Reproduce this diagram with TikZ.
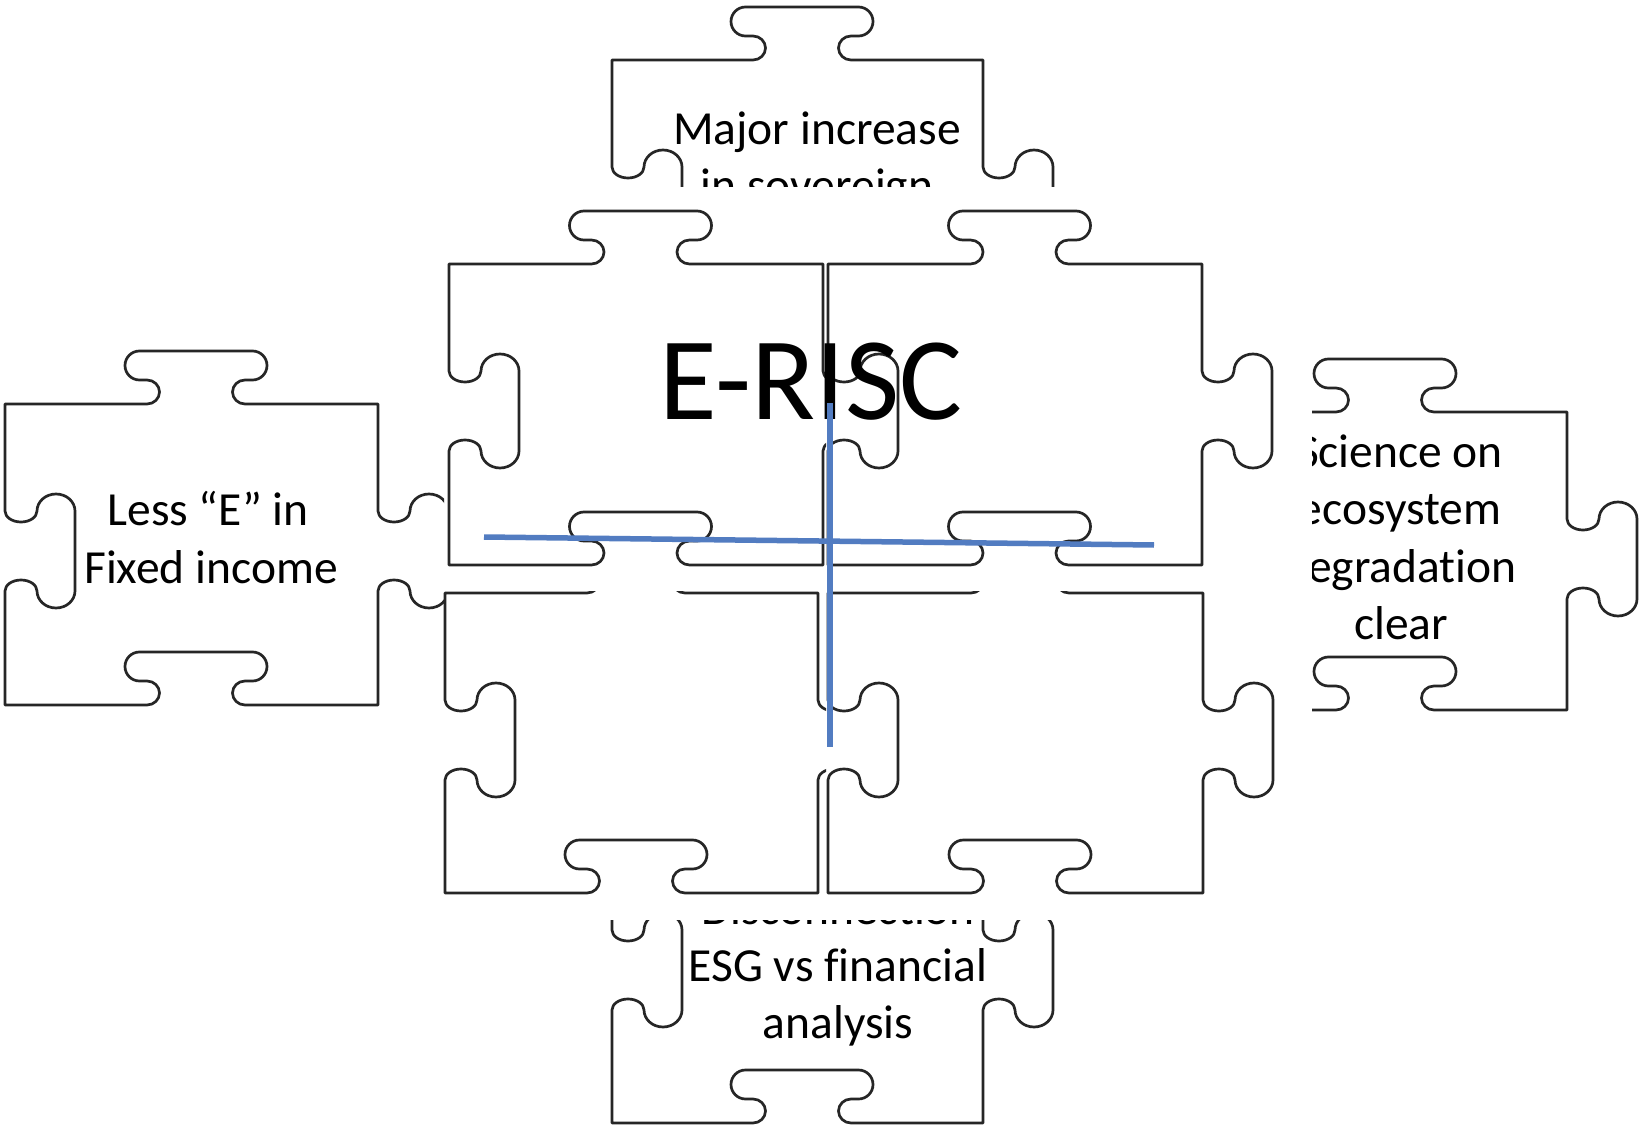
\documentclass[tikz,border=0pt]{standalone}
\usepackage{fontspec}
\setmainfont{Carlito}[Ligatures=NoCommon]
\definecolor{crossblue}{RGB}{82,124,193}
\definecolor{edgegray}{RGB}{38,38,38}

% One jigsaw piece: #1,#2 = top-left corner, #3 = width, #4 = height, #5 = name.
% Top: tab out, right: tab out, bottom: socket in, left: socket in.
\newcommand{\jigsaw}[5]{%
  \pgfmathsetmacro\jxa{#1}%
  \pgfmathsetmacro\jya{#2}%
  \pgfmathsetmacro\jxb{#1+#3}%
  \pgfmathsetmacro\jyb{#2+#4}%
  \pgfmathsetmacro\jxt{#1+#3/2+4.5}%
  \pgfmathsetmacro\jys{#2+147}%
  \draw[outline] (\jxa,\jya) coordinate (#5-nw)
    -- ({\jxt-49},\jya)
    arc[start angle=90,end angle=-90,x radius=12.5,y radius=12]
    -- ({\jxt-56.5},{\jya-24})
    arc[start angle=90,end angle=270,radius=14.5]
    -- ({\jxt+56.5},{\jya-53})
    arc[start angle=-90,end angle=90,radius=14.5]
    -- ({\jxt+49},{\jya-24})
    arc[start angle=270,end angle=90,x radius=12.5,y radius=12]
    -- (\jxb,\jya)
    -- (\jxb,{\jys-40})
    arc[start angle=180,end angle=0,x radius=16,y radius=11]
    arc[start angle=180,end angle=360,x radius=19,y radius=17]
    -- ({\jxb+70},{\jys+40})
    arc[start angle=0,end angle=180,x radius=19,y radius=17]
    arc[start angle=0,end angle=-180,x radius=16,y radius=11]
    -- (\jxb,\jyb)
    -- ({\jxt+49},\jyb)
    arc[start angle=90,end angle=270,x radius=12.5,y radius=12]
    -- ({\jxt+56.5},{\jyb-24})
    arc[start angle=90,end angle=-90,radius=14.5]
    -- ({\jxt-56.5},{\jyb-53})
    arc[start angle=270,end angle=90,radius=14.5]
    -- ({\jxt-49},{\jyb-24})
    arc[start angle=-90,end angle=90,x radius=12.5,y radius=12]
    -- (\jxa,\jyb)
    -- (\jxa,{\jys+40})
    arc[start angle=-180,end angle=0,x radius=16,y radius=11]
    arc[start angle=180,end angle=0,x radius=19,y radius=17]
    -- ({\jxa+70},{\jys-40})
    arc[start angle=360,end angle=180,x radius=19,y radius=17]
    arc[start angle=0,end angle=180,x radius=16,y radius=11]
    -- cycle;%
}

\begin{document}
\begin{tikzpicture}[x=1pt,y=-1pt,
  outline/.style={draw=edgegray,line width=2.7pt,line join=round,line cap=round},
  lbl/.style={anchor=base,inner sep=0pt,font=\fontsize{47.5}{57.5}\selectfont,text=black},
  crossline/.style={draw=crossblue,line width=5.5pt}]

\fill[white] (0,0) rectangle (1642,1126);
\useasboundingbox (0,0) rectangle (1642,1126);

% outer pieces
\begin{scope}
  \clip (0,0) rectangle (1642,187);
  \jigsaw{612}{60}{371}{300}{ptop}
  \node[lbl] (t1) at (817,145) {Major increase};
  \node[lbl] (t2) at (817,202) {in sovereign};
\end{scope}

\begin{scope}
  \clip (0,0) rectangle (444,1126);
  \jigsaw{5}{404}{373}{301}{pleft}
  \node[lbl] (l1) at (208,525) {Less “E” in};
  \node[lbl] (l2) at (211,583) {Fixed income};
\end{scope}

\begin{scope}
  \clip (1312,0) rectangle (1642,1126);
  \jigsaw{1194}{412}{373}{298}{pright}
  \node[lbl] (r1) at (1400,467) {Science on};
  \node[lbl] (r2) at (1400,524.5) {ecosystem};
  \node[lbl] (r3) at (1400,582) {degradation};
  \node[lbl] (r4) at (1401,639.5) {clear};
\end{scope}

\begin{scope}
  \clip (0,920) rectangle (1642,1126);
  \jigsaw{612}{823}{371}{300}{pbottom}
  \node[lbl] (b1) at (838,924) {Disconnection};
  \node[lbl] (b2) at (838,981) {ESG vs financial};
  \node[lbl] (b3) at (838,1038) {analysis};
\end{scope}

% central four pieces
\begin{scope}
  \clip (0,0) rectangle (826,1126);
  \jigsaw{449}{264}{374}{301}{ctl}
\end{scope}
\jigsaw{828}{264}{374}{301}{ctr}
\begin{scope}
  \clip (0,591) rectangle (826,1126);
  \jigsaw{445}{593}{373}{300}{cbl}
\end{scope}
\begin{scope}
  \clip (0,591) rectangle (1642,1126);
  \jigsaw{828}{593}{375}{300}{cbr}
\end{scope}

% title and cross
\node[anchor=base,inner sep=0pt,font=\fontsize{118}{126}\selectfont] (title) at (811,419) {E-RISC};

\coordinate (hl) at (484,537);
\coordinate (hr) at (1154,545);
\coordinate (vt) at (830,403);
\coordinate (vb) at (830,747);
\draw[crossline] (hl) -- (hr);
\draw[crossline] (vt) -- (vb);
\end{tikzpicture}
\end{document}
